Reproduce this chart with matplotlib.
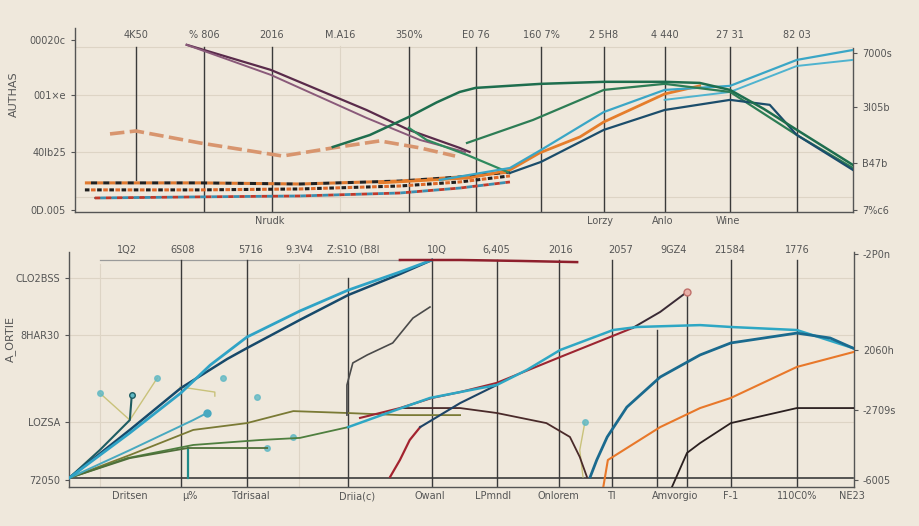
import matplotlib
matplotlib.use("Agg")
import matplotlib.pyplot as plt

# ====== colours ======
BG = "#efe8dc"
INK = "#555555"
LINE = "#3a3a3a"

# ====== panel 1 data (x = category position, y = 0..100) ======
top_labels = ["4K50", "% 806", "2016", "M.A16", "350%", "E0 76", "160 7%", "2 5H8", "4 440", "27 31", "82 03"]
top_label_pos = [0, 1.03, 2.06, 3.09, 4.14, 5.15, 6.13, 7.08, 8.0, 8.99, 10.0]
top_vlines = [0, 1.03, 2.06, 4.14, 5.15, 6.13, 7.08, 8.0, 8.99, 10.0]
top_vline_lo = [17.4, 0, 0, 0, 0, 0, 0, 0, 0, 0]
top_xticks = [2.03, 7.02, 7.97, 8.96]
top_xlabels = ["Nrudk", "Lorzy", "Anlo", "Wine"]
top_left_ticks = [93.5, 63.6, 32.6, 1.1]
top_left_labels = ["00020c", "001×e", "40lb25", "0D.005"]
top_right_ticks = [86.4, 57.1, 26.6, 1.1]
top_right_labels = ["7000s", "3I05b", "B47b", "7%c6"]

p1_x = [0.77, 2.04, 3.49, 4.13, 4.90, 5.05]
p1_y = [90.8, 77.2, 55.4, 44.6, 34.8, 32.6]
p2_x = [0.77, 2.04, 3.49, 4.30, 4.98]
p2_y = [90.8, 74.5, 51.1, 39.1, 32.6]
tan_x = [-0.39, 0, 0.97, 2.22, 2.98, 3.69, 4.30, 4.83]
tan_y = [42.4, 44.0, 37.5, 30.4, 34.8, 38.6, 34.8, 30.4]
g1_x = [2.98, 3.54, 4.13, 4.55, 4.90, 5.14, 6.13, 7.08, 8.0, 8.53, 8.99, 9.5, 10.0, 10.85]
g1_y = [35.3, 41.8, 51.6, 59.5, 65.2, 67.4, 69.6, 70.7, 70.7, 70.1, 66.3, 56.0, 44.6, 25.5]
g2_x = [4.13, 4.40, 5.01, 5.66]
g2_y = [45.7, 39.1, 31.0, 21.2]
g3_x = [5.01, 6.01, 7.08, 8.0, 8.99, 10.0, 10.85]
g3_y = [37.5, 50.0, 66.3, 69.6, 65.2, 41.8, 23.9]
teal_x = [4.60, 5.66, 6.13, 7.08, 8.0, 8.99, 10.0, 10.85]
teal_y = [17.4, 23.9, 33.7, 54.3, 66.3, 68.5, 82.6, 88.0]
orange_x = [3.69, 5.05, 5.66, 6.11, 6.72, 7.08, 8.0, 8.53]
orange_y = [15.8, 18.5, 22.8, 32.1, 40.8, 48.9, 64.1, 68.5]
navy_x = [5.66, 6.13, 7.08, 8.0, 8.99, 9.59, 10.0, 10.85]
navy_y = [21.2, 27.2, 44.6, 55.4, 60.9, 58.2, 41.8, 22.8]
lb_x = [8.0, 8.99, 10.0, 10.85]
lb_y = [60.9, 65.2, 79.3, 82.6]
band_x = [-0.77, 0.97, 2.48, 3.99, 4.90, 5.66]
band1_y = [15.8, 15.8, 15.2, 16.8, 19.0, 21.7]
band2_y = [12.0, 12.0, 12.5, 14.1, 16.3, 19.6]
band3_x = [-0.62, 0.97, 2.48, 3.99, 4.90, 5.66]
band3_y = [7.6, 8.2, 8.7, 10.3, 13.0, 16.3]

# ====== panel 2 data ======
bot_top_labels = ["1Q2", "6S08", "5716", "9.3V4", "Z:S1O (B8I", "10Q", "6,405", "2016", "2057", "9GZ4", "21584", "1776"]
bot_top_pos = [0.89, 1.74, 2.77, 3.52, 4.34, 5.63, 6.54, 7.51, 8.43, 9.25, 10.11, 11.13]
bot_xticks = [0.93, 1.85, 2.78, 4.40, 5.52, 6.48, 7.49, 8.29, 9.27, 10.12, 11.13, 11.97]
bot_xlabels = ["Dritsen", "µ%", "Tdrisaal", "Driia(c)", "Owanl", "LPmndl", "Onlorem", "Tl",
               "Amvorgio", "F-1", "110C0%", "NE23"]
bot_vlines = [1.71, 2.72, 4.27, 5.55, 6.54, 7.49, 8.30, 8.99, 9.45, 10.12, 11.13]
bot_vline_hi = [96.6, 96.6, 88.9, 96.6, 96.6, 96.6, 96.6, 66.8, 83.0, 96.6, 96.6]
bot_left_ticks = [88.9, 64.7, 27.7, 3.0]
bot_left_labels = ["CLO2BSS", "8HAR30", "LOZSA", "72050"]
bot_right_ticks = [99.1, 58.3, 32.8, 3.0]
bot_right_labels = ["-2P0n", "2060h", "-2709s", "-6005"]

navyb_x = [0, 0.93, 1.71, 2.42, 2.72, 3.53, 4.27, 5.06, 5.55]
navyb_y = [3.8, 24.3, 42.1, 54.5, 59.1, 71.1, 81.7, 90.6, 96.6]
blueb_x = [0, 0.93, 1.71, 2.16, 2.72, 3.53, 4.27, 5.06, 5.55]
blueb_y = [3.8, 23.0, 40.0, 51.9, 63.8, 74.9, 83.8, 91.5, 96.6]
redtop_x = [5.06, 5.98, 6.90, 7.77]
redtop_y = [96.6, 96.6, 96.2, 95.7]
cyan_x = [4.27, 4.91, 5.52, 5.98, 6.54, 7.00, 7.51, 8.32, 8.69, 9.65, 10.12, 11.13, 11.99]
cyan_y = [25.5, 31.9, 37.9, 40.4, 43.4, 49.8, 58.3, 66.8, 68.1, 68.9, 68.1, 66.8, 59.1]
red_x = [4.45, 5.06, 5.55, 5.98, 6.54, 7.51, 8.62]
red_y = [29.4, 33.6, 37.9, 40.4, 44.3, 55.3, 67.7]
dark_x = [8.62, 9.04, 9.45]
dark_y = [67.7, 74.5, 83.0]
redlow_x = [4.91, 5.06, 5.21, 5.37]
redlow_y = [4.3, 11.5, 20.0, 25.5]
navy2_x = [5.37, 5.55, 5.98, 6.54]
navy2_y = [25.5, 28.5, 35.7, 43.4]
arc_x = [5.06, 5.98, 6.54, 7.30, 7.66, 7.81, 7.92]
arc_y = [33.6, 33.6, 31.5, 27.2, 21.3, 12.8, 4.3]
tealb_x = [7.97, 8.07, 8.23, 8.53, 9.04, 9.65, 10.12, 11.13, 11.64, 11.99]
tealb_y = [4.3, 11.5, 21.3, 34.0, 46.8, 56.2, 61.3, 65.5, 63.4, 59.1]
orb_x = [8.17, 8.24, 9.04, 9.65, 10.12, 11.13, 11.99]
orb_y = [0, 11.5, 25.5, 33.6, 37.9, 51.1, 57.4]
brown_x = [9.22, 9.45, 9.65, 10.12, 11.13, 11.99]
brown_y = [0, 14.5, 18.7, 27.2, 33.6, 33.6]
branch_x = [4.25, 4.25, 4.34, 4.56, 4.95, 5.26, 5.52]
branch_y = [30.6, 43.4, 52.8, 56.2, 61.3, 71.9, 76.6]
ol1_x = [0, 0.93, 1.90, 2.72, 3.43, 4.25, 5.06, 5.98]
ol1_y = [3.8, 13.6, 24.3, 27.2, 32.3, 31.5, 30.6, 30.6]
ol2_x = [0, 0.89, 1.90, 2.92, 3.53, 4.27]
ol2_y = [3.8, 12.3, 17.9, 20.0, 20.9, 25.5]
ol3_x = [0, 0.93, 1.82, 3.03]
ol3_y = [3.8, 12.3, 16.6, 16.6]
tl4_x = [0, 0.93, 1.90, 2.11]
tl4_y = [3.8, 15.7, 28.5, 31.5]
tl5_x = [0, 0.47, 0.93, 0.96]
tl5_y = [3.8, 15.7, 28.5, 39.1]
twig_x = [[0.93, 0.47], [0.93, 1.35], [1.70, 2.23, 2.23], [7.86, 7.81, 7.89]]
twig_y = [[28.5, 40.0], [28.5, 46.4], [42.6, 40.4, 38.7], [4.3, 15.7, 27.7]]
dots_x = [0.47, 1.35, 2.35, 2.87, 2.11, 3.43, 3.03, 7.89]
dots_y = [40.0, 46.4, 46.4, 38.3, 31.5, 21.3, 16.6, 27.7]

# ====== figure ======
fig = plt.figure(figsize=(9.2, 5.26), dpi=100, facecolor=BG)
ax1 = fig.add_axes([0.0815, 0.597, 0.8457, 0.350], facecolor=BG)
ax2 = fig.add_axes([0.075, 0.0741, 0.853, 0.4468], facecolor=BG)


def style(ax):
    ax.spines["top"].set_visible(False)
    for s in ["left", "right", "bottom"]:
        ax.spines[s].set_color(INK)
        ax.spines[s].set_linewidth(1.0)
    ax.tick_params(axis="x", length=0, labelsize=7, colors=INK, pad=3)
    ax.tick_params(axis="y", length=3, labelsize=7, colors=INK, width=0.8)


# ---- panel 1 ----
ax = ax1
style(ax)
ax.set_xlim(-0.92, 10.85)
ax.set_ylim(0, 100)
ax.spines["right"].set_bounds(0, 89)
for yv in [89.7, 63.6, 32.6, 8.2]:
    ax.axhline(yv, color="#ddd4c5", lw=0.8, zorder=0)
ax.axvline(3.09, ymax=0.9, color="#ddd4c5", lw=0.8, zorder=0)
for xv, lo in zip(top_vlines, top_vline_lo):
    ax.plot([xv, xv], [lo, 89.7], color=LINE, lw=1.0, zorder=1)
for xv, lab in zip(top_label_pos, top_labels):
    ax.text(xv, 96, lab, ha="center", va="center", fontsize=7, color=INK)

for c, off in [("#e07a30", 0), ("#222222", 2)]:
    ax.plot(band_x, band1_y, color=c, lw=2.2, ls=(off, (2, 2)), zorder=2)
for c, off in [("#1f1f1f", 0), ("#e06a2a", 2)]:
    ax.plot(band_x, band2_y, color=c, lw=2.2, ls=(off, (1.5, 2.5)), zorder=2)
ax.plot(band3_x[:2], band3_y[:2], color="#444444", lw=1.0, zorder=2)
for c, off in [("#c0392b", 0), ("#3a8fb0", 2)]:
    ax.plot(band3_x, band3_y, color=c, lw=2.0, ls=(off, (2, 2)), zorder=2)

ax.plot(tan_x, tan_y, color="#d8956e", lw=2.6, ls=(0, (4, 1.5)), zorder=3)
ax.plot(p1_x, p1_y, color="#5a2b4b", lw=1.6, zorder=4)
ax.plot(p2_x, p2_y, color="#8a5a7a", lw=1.4, zorder=4)
ax.plot(orange_x, orange_y, color="#e57d2b", lw=2.0, zorder=4)
ax.plot(g2_x, g2_y, color="#2f8a5e", lw=1.6, zorder=4)
ax.plot(teal_x, teal_y, color="#3aa6c6", lw=1.6, zorder=4)
ax.plot(lb_x, lb_y, color="#4fb3cf", lw=1.4, zorder=4)
ax.plot(g3_x, g3_y, color="#2d7d55", lw=1.6, zorder=5)
ax.plot(navy_x, navy_y, color="#1b4d6b", lw=1.6, zorder=5)
ax.plot(g1_x, g1_y, color="#1e6e4e", lw=1.8, zorder=5)

ax.set_xticks(top_xticks)
ax.set_xticklabels(top_xlabels)
ax.set_yticks(top_left_ticks)
ax.set_yticklabels(top_left_labels)
ra = ax.secondary_yaxis("right")
ra.set_yticks(top_right_ticks)
ra.set_yticklabels(top_right_labels)
ra.tick_params(length=3, labelsize=7, colors=INK, width=0.8)
ra.spines["right"].set_visible(False)
ax.set_ylabel("AUTHAS", fontsize=8, color=INK)
ax.yaxis.set_label_coords(-0.072, 0.64)

# ---- panel 2 ----
ax = ax2
style(ax)
ax.set_xlim(0, 12)
ax.set_ylim(0, 100)
for yv in [88.9, 64.7, 27.7]:
    ax.axhline(yv, color="#ddd4c5", lw=0.8, zorder=0)
for xv in [0.47, 3.52]:
    ax.axvline(xv, ymax=0.95, color="#ddd4c5", lw=0.8, zorder=0)
ax.plot([0.47, 5.06], [96.6, 96.6], color="#9a9a9a", lw=0.9, zorder=1)
ax.plot([0, 11.99], [3.8, 3.8], color=LINE, lw=1.2, zorder=1)
for xv, hi in zip(bot_vlines, bot_vline_hi):
    ax.plot([xv, xv], [0, hi], color=LINE, lw=1.0, zorder=1)
for xv, lab in zip(bot_top_pos, bot_top_labels):
    ax.text(xv, 100.9, lab, ha="center", va="center", fontsize=7, color=INK, clip_on=False)

for xs, ys in zip(twig_x, twig_y):
    ax.plot(xs, ys, color="#c9c27a", lw=1.0, zorder=2)
ax.plot(dots_x, dots_y, ls="none", marker="o", ms=4, color="#5fb8c4", alpha=0.8, zorder=3)
ax.plot([1.82, 1.82], [3.8, 16.6], color="#1f8a8a", lw=1.6, zorder=3)

ax.plot(ol1_x, ol1_y, color="#7a7a35", lw=1.3, zorder=3)
ax.plot(ol2_x, ol2_y, color="#4f7f3f", lw=1.3, zorder=3)
ax.plot(ol3_x, ol3_y, color="#4f6f3a", lw=1.3, zorder=3)
ax.plot(tl4_x, tl4_y, color="#48a9c0", lw=1.4, marker="o", markevery=[3], ms=5, zorder=3)
ax.plot(tl5_x, tl5_y, color="#1e5c62", lw=1.5, marker="o", markevery=[3], ms=4, mfc="#5fb8c4", zorder=3)
ax.plot(branch_x, branch_y, color="#4a4a4a", lw=1.2, zorder=3)
ax.plot(navyb_x, navyb_y, color="#17496a", lw=1.8, zorder=4)
ax.plot(blueb_x, blueb_y, color="#2fa3c6", lw=2.0, zorder=4)
ax.plot(redtop_x, redtop_y, color="#8e1f2c", lw=1.8, zorder=4)
ax.plot(arc_x, arc_y, color="#4a2a2a", lw=1.3, zorder=3)
ax.plot(red_x, red_y, color="#9c2531", lw=1.5, zorder=4)
ax.plot(dark_x, dark_y, color="#3a2a35", lw=1.4, marker="o", markevery=[2], ms=5,
        mfc="#e8b0a8", mec="#c0706a", zorder=4)
ax.plot(redlow_x, redlow_y, color="#a3232f", lw=1.6, zorder=4)
ax.plot(navy2_x, navy2_y, color="#1d4466", lw=1.5, zorder=4)
ax.plot(cyan_x, cyan_y, color="#2ea7c4", lw=1.8, zorder=5)
ax.plot(tealb_x, tealb_y, color="#1a6a8e", lw=2.0, zorder=5)
ax.plot(orb_x, orb_y, color="#e8782a", lw=1.5, zorder=5)
ax.plot(brown_x, brown_y, color="#2b2020", lw=1.3, zorder=5)

ax.set_xticks(bot_xticks)
ax.set_xticklabels(bot_xlabels)
ax.set_yticks(bot_left_ticks)
ax.set_yticklabels(bot_left_labels)
rb = ax.secondary_yaxis("right")
rb.set_yticks(bot_right_ticks)
rb.set_yticklabels(bot_right_labels)
rb.tick_params(length=3, labelsize=7, colors=INK, width=0.8)
rb.spines["right"].set_visible(False)
ax.set_ylabel("A_ORTIE", fontsize=8, color=INK)
ax.yaxis.set_label_coords(-0.068, 0.63)

fig.savefig("out.png", dpi=100, facecolor=BG)
